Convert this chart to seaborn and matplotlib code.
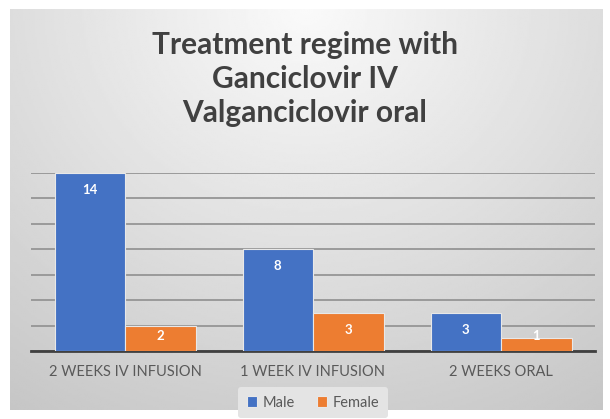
import numpy as np
import pandas as pd
import matplotlib
matplotlib.use("Agg")
import matplotlib.pyplot as plt
import seaborn as sns

categories = ["2 WEEKS IV INFUSION", "1 WEEK IV INFUSION", "2 WEEKS ORAL"]
male = [14, 8, 3]
female = [2, 3, 1]
series = ["Male", "Female"]
colors = ["#4472C4", "#ED7D31"]

df = pd.DataFrame({
    "regime": categories * 2,
    "count": male + female,
    "sex": ["Male"] * len(categories) + ["Female"] * len(categories),
})

sns.set_style("white")
plt.rcParams["font.family"] = ["Lato", "DejaVu Sans"]

fig = plt.figure(figsize=(6.1, 4.19), dpi=100)

# gradient chart background
bg = fig.add_axes([10 / 610, 9 / 419, 593 / 610, 401 / 419], zorder=0)
yy, xx = np.mgrid[0:1:200j, 0:1:300j]
r = np.sqrt(((xx - 0.5) / 0.75) ** 2 + (yy / 1.0) ** 2)
val = 0.98 - 0.17 * np.clip(r, 0, 1.2)
bg.imshow(val, cmap="gray", vmin=0, vmax=1, aspect="auto", extent=[0, 1, 1, 0])
bg.set_axis_off()

ax = fig.add_axes([31 / 610, 68 / 419, 564 / 610, 178 / 419], zorder=1)
ax.patch.set_alpha(0)
sns.barplot(data=df, x="regime", y="count", hue="sex", hue_order=series,
            palette=colors, width=0.75, gap=0.0, saturation=1,
            edgecolor="#e8e8e8", linewidth=0.8, ax=ax, legend=True, zorder=3)

ax.set_ylim(0, 14)
ax.set_yticks(range(0, 15, 2))
ax.yaxis.grid(True, color="#959595", linewidth=1.3, zorder=0)
ax.set_axisbelow(True)
ax.set_yticklabels([])
ax.tick_params(axis="y", length=0)
ax.tick_params(axis="x", length=0, pad=10, labelsize=10.5, labelcolor="#595959")
ax.set_xlabel("")
ax.set_ylabel("")
for s in ["top", "right", "left"]:
    ax.spines[s].set_visible(False)
ax.spines["bottom"].set_color("#404040")
ax.spines["bottom"].set_linewidth(2)

for cont in ax.containers:
    for bar in cont:
        v = bar.get_height()
        ax.text(bar.get_x() + bar.get_width() / 2, max(v - 1.35, 1.2), f"{v:.0f}",
                ha="center", va="center", color="white", fontsize=9.5,
                fontweight="bold", zorder=5)

leg = ax.legend(loc="center", bbox_to_anchor=(0.5, -0.29), ncol=2, frameon=True,
                fontsize=10.5, handlelength=0.7, handleheight=0.7,
                handletextpad=0.4, columnspacing=1.5, borderpad=0.6)
leg.get_frame().set_facecolor("#e4e4e4")
leg.get_frame().set_edgecolor("none")
leg.get_frame().set_alpha(1)
for t in leg.get_texts():
    t.set_color("#595959")

fig.text(0.5, 0.812, "Treatment regime with\nGanciclovir IV\nValganciclovir oral",
         ha="center", va="center", fontsize=21.5, fontweight="bold",
         color="#404040", linespacing=1.25, zorder=2)

fig.savefig("out.png", dpi=100)
